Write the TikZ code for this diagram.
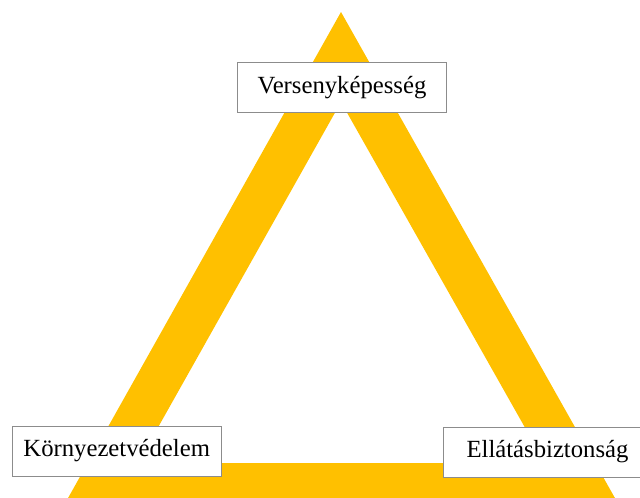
\documentclass[tikz,border=0pt]{standalone}
\usepackage{fontspec}
\setmainfont{Liberation Serif}
\definecolor{gold}{HTML}{FFC000}

\begin{document}
\begin{tikzpicture}[x=1pt, y=-1pt,
        rectnode/.style={rectangle, draw=gray!90, fill=white, thin, minimum width=209pt, minimum height=50pt, inner sep=0pt, font=\fontsize{24.7}{29}\selectfont},
        ]
            \useasboundingbox (0,0) rectangle (640,498);
            \clip (0,0) rectangle (640,498);

            \fill[gold, even odd rule] (341,12) -- (620,507) -- (63,507) -- cycle
                                       (341,102) -- (545,463) -- (138,463) -- cycle;

            \node[rectnode]  at(342,87.5) (1) {Versenyképesség};
            \node[rectnode]  at(116.7,451) (2) {Környezetvédelem};
            \node[rectnode]  at(547.5,452) (3) {Ellátásbiztonság};

            \end{tikzpicture}
\end{document}
